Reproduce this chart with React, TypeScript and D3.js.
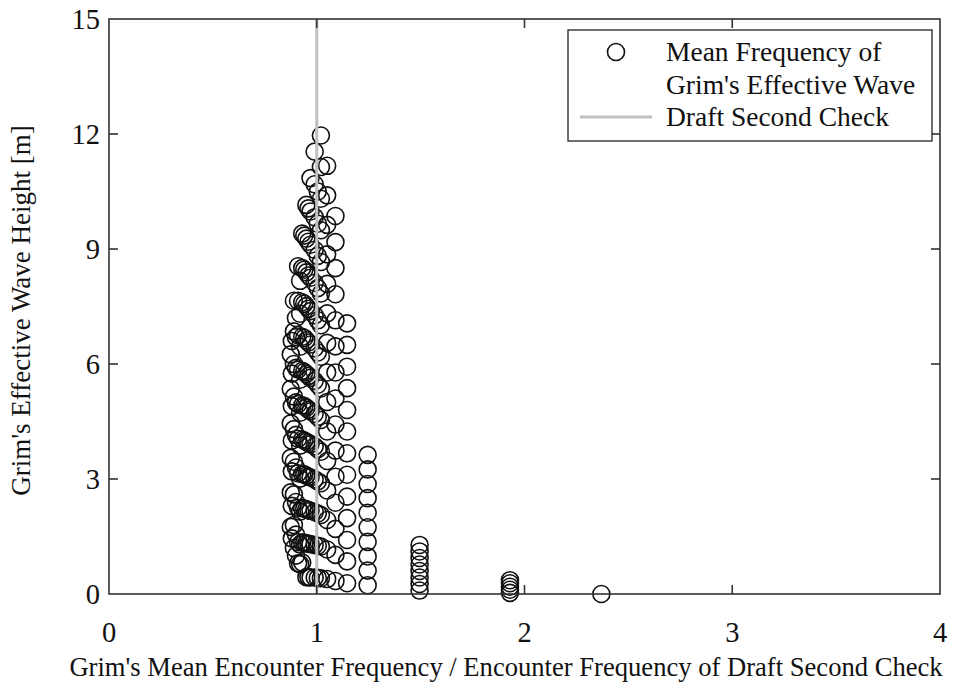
import React from "react";
import * as d3 from "d3";

// Tick values
const xTicks = [0, 1, 2, 3, 4];
const yTicks = [0, 3, 6, 9, 12, 15];

// Column x-positions (frequency ratio) of the scatter groups
const colX = [
  1.146, 1.09, 1.05, 1.02, 1.005, 0.99, 0.97, 0.96, 0.95, 0.94, 0.93, 0.92, 0.91, 0.9, 0.89, 0.88, 0.875,
  1.245, 1.495, 1.93, 2.37,
];

// Effective wave heights for each group, same order as colX
const colY: number[][] = [
  [0.28, 0.85, 1.41, 1.98, 2.54, 3.11, 3.67, 4.24, 4.8, 5.37, 5.93, 6.5, 7.06],
  [0.34, 1.02, 1.7, 2.38, 3.06, 3.74, 4.42, 5.1, 5.78, 6.46, 7.14, 7.82, 8.5, 9.18, 9.86],
  [0.39, 1.16, 1.93, 2.7, 3.47, 4.24, 5.01, 5.78, 6.55, 7.32, 8.09, 8.86, 9.63, 10.4, 11.17],
  [0.41, 1.24, 2.06, 2.89, 3.71, 4.54, 5.36, 6.19, 7.01, 7.84, 8.66, 9.49, 10.31, 11.14, 11.96],
  [0.42, 1.26, 2.1, 2.94, 3.78, 4.62, 5.46, 6.3, 7.14, 7.98, 8.82, 9.66, 10.5],
  [0.43, 1.28, 2.14, 2.99, 3.85, 4.7, 5.56, 6.41, 7.27, 8.12, 8.98, 9.83, 10.69, 11.54],
  [0.43, 1.3, 2.17, 3.04, 3.91, 4.77, 5.64, 6.51, 7.38, 8.25, 9.11, 9.98, 10.85],
  [0.44, 1.31, 2.19, 3.06, 3.94, 4.81, 5.69, 6.56, 7.44, 8.31, 9.19, 10.06],
  [0.44, 1.32, 2.21, 3.09, 3.97, 4.86, 5.74, 6.62, 7.51, 8.39, 9.27, 10.15],
  [1.34, 2.23, 3.12, 4.0, 4.9, 5.79, 6.68, 7.57, 8.46, 9.35],
  [0.82, 1.34, 2.24, 3.13, 4.03, 4.92, 5.82, 6.71, 7.61, 8.5, 9.4],
  [0.78, 1.29, 2.15, 3.01, 3.87, 4.73, 5.59, 6.45, 7.31, 8.17],
  [0.8, 1.35, 2.25, 3.15, 4.05, 4.95, 5.85, 6.75, 7.65, 8.55],
  [1.0, 1.55, 2.4, 3.3, 4.15, 5.0, 5.9, 6.7, 7.2],
  [1.2, 1.8, 2.6, 3.45, 4.3, 5.15, 6.0, 6.85, 7.65],
  [1.45, 2.3, 3.2, 4.0, 4.9, 5.75, 6.6],
  [1.75, 2.65, 3.55, 4.45, 5.35, 6.25],
  [0.23, 0.61, 0.98, 1.36, 1.74, 2.12, 2.5, 2.87, 3.25, 3.63],
  [0.09, 0.26, 0.43, 0.6, 0.77, 0.94, 1.11, 1.28],
  [0.03, 0.11, 0.19, 0.28, 0.36],
  [0.0],
];

const draftCheckX = 1;

const legendLabels = ["Mean Frequency of", "Grim's Effective Wave", "Draft Second Check"];
const xTitle = "Grim's Mean Encounter Frequency / Encounter Frequency of Draft Second Check";
const yTitle = "Grim's Effective Wave Height [m]";

export default function App() {
  const W = 956, H = 692;
  const left = 109, right = 940, top = 19, bottom = 594;
  const x = d3.scaleLinear().domain([0, 4]).range([left, right]);
  const y = d3.scaleLinear().domain([0, 15]).range([bottom, top]);
  const font = "'Liberation Serif', 'Times New Roman', serif";
  const axisColor = "#333";
  const tickLen = 9;

  const points: { px: number; py: number }[] = [];
  colX.forEach((cx, i) => {
    colY[i].forEach((v) => points.push({ px: x(cx), py: y(v) }));
  });

  return (
    <svg width={W} height={H} style={{ position: "absolute", left: 0, top: 0, background: "#fff", fontFamily: font }}>
      {/* points */}
      <g fill="none" stroke="#111" strokeWidth={1.6}>
        {points.map((p, i) => (
          <circle key={i} cx={p.px} cy={p.py} r={8.5} />
        ))}
      </g>
      {/* draft second check line */}
      <line x1={x(draftCheckX)} x2={x(draftCheckX)} y1={y(0)} y2={y(15)} stroke="#c0c0c0" strokeWidth={3} />
      {/* frame */}
      <rect x={left} y={top} width={right - left} height={bottom - top} fill="none" stroke={axisColor} strokeWidth={1.6} />
      {/* ticks */}
      <g stroke={axisColor} strokeWidth={1.6}>
        {xTicks.slice(1, -1).map((t) => (
          <g key={"xt" + t}>
            <line x1={x(t)} x2={x(t)} y1={bottom} y2={bottom - tickLen} />
            <line x1={x(t)} x2={x(t)} y1={top} y2={top + tickLen} />
          </g>
        ))}
        {yTicks.slice(1, -1).map((t) => (
          <g key={"yt" + t}>
            <line x1={left} x2={left + tickLen} y1={y(t)} y2={y(t)} />
            <line x1={right} x2={right - tickLen} y1={y(t)} y2={y(t)} />
          </g>
        ))}
      </g>
      {/* tick labels */}
      <g fontSize={28.5} fill="#111">
        {xTicks.map((t) => (
          <text key={"xl" + t} x={x(t)} y={642} textAnchor="middle">{t}</text>
        ))}
        {yTicks.map((t) => (
          <text key={"yl" + t} x={100} y={y(t)} dy="0.35em" textAnchor="end">{t}</text>
        ))}
      </g>
      {/* axis titles */}
      <text x={506} y={676} textAnchor="middle" fontSize={26.6} fill="#111">{xTitle}</text>
      <text transform={`translate(30, ${(top + bottom) / 2 + 4}) rotate(-90)`} textAnchor="middle" fontSize={27} fill="#111">{yTitle}</text>
      {/* legend */}
      <g>
        <rect x={568} y={30} width={364} height={111} fill="#fff" stroke="#222" strokeWidth={1.3} />
        <circle cx={616} cy={52} r={8.5} fill="none" stroke="#111" strokeWidth={1.6} />
        <line x1={580} x2={652} y1={117} y2={117} stroke="#c0c0c0" strokeWidth={3} />
        <g fontSize={27.5} fill="#111">
          <text x={666} y={61}>{legendLabels[0]}</text>
          <text x={666} y={94}>{legendLabels[1]}</text>
          <text x={666} y={126}>{legendLabels[2]}</text>
        </g>
      </g>
    </svg>
  );
}
